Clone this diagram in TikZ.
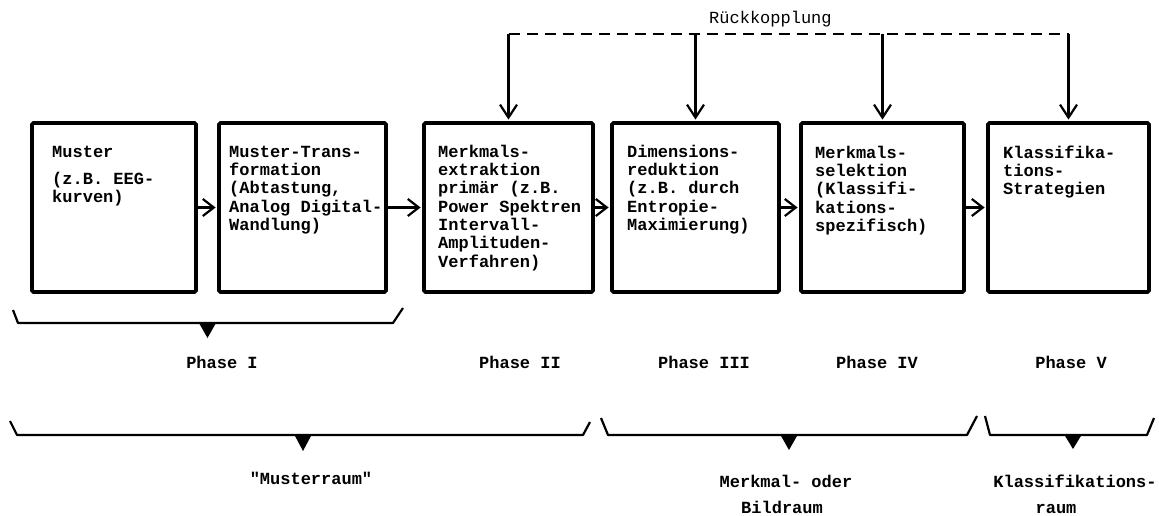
\documentclass[tikz,border=0pt]{standalone}
\usepackage{fontspec}
\setmonofont{Liberation Mono}
\usetikzlibrary{arrows.meta}
\begin{document}
\begin{tikzpicture}[x=1pt, y=-1pt,
  stage/.style={draw, line width=3.8pt, rounded corners=1.5pt, inner sep=0pt,
                minimum height=169pt},
  stagetext/.style={anchor=north west, inner sep=0pt, align=left,
                    font=\fontsize{17}{18.3}\selectfont\ttfamily\bfseries},
  phasetext/.style={anchor=base, inner sep=0pt,
                    font=\fontsize{17}{18.3}\selectfont\ttfamily\bfseries},
  flow/.style={line width=2.2pt, shorten >=1.5pt,
               -{Straight Barb[length=11pt,width=17pt,line width=2.2pt]}},
  drop/.style={line width=2.2pt, shorten >=1.5pt,
               -{Straight Barb[length=13pt,width=17pt,line width=2.2pt]}},
  feedline/.style={line width=2.4pt, dash pattern=on 11pt off 7pt},
  brace/.style={line width=2.2pt, line join=round},
  tip/.style={fill=black}
]
\useasboundingbox (0,0) rectangle (1159,515);

% processing stages
\node[stage, minimum width=164pt] (b1) at (114,207.5) {};
\node[stage, minimum width=167pt] (b2) at (302.5,207.5) {};
\node[stage, minimum width=169pt] (b3) at (508.5,207.5) {};
\node[stage, minimum width=167pt] (b4) at (695.5,207.5) {};
\node[stage, minimum width=163pt] (b5) at (882.5,207.5) {};
\node[stage, minimum width=161pt] (b6) at (1068.5,207.5) {};

% stage descriptions
\node[stagetext] (t1) at (52,144.2) {\strut Muster\\[8.7pt](z.B. EEG-\\kurven)};
\node[stagetext] (t2) at (229,144.2) {\strut Muster-Trans-\\formation\\(Abtastung,\\Analog Digital-\\Wandlung)};
\node[stagetext] (t3) at (438,144.2) {\strut Merkmals-\\extraktion\\primär (z.B.\\Power Spektren\\Intervall-\\Amplituden-\\Verfahren)};
\node[stagetext] (t4) at (627,144.2) {\strut Dimensions-\\reduktion\\(z.B. durch\\Entropie-\\Maximierung)};
\node[stagetext] (t5) at (815,145.2) {\strut Merkmals-\\selektion\\(Klassifi-\\kations-\\spezifisch)};
\node[stagetext] (t6) at (1003,145.2) {\strut Klassifika-\\tions-\\Strategien};

% forward flow
\draw[flow] (b1.east) -- (b2.west);
\draw[flow] (b2.east) -- (b3.west);
\draw[flow] (b3.east) -- (b4.west);
\draw[flow] (b4.east) -- (b5.west);
\draw[flow] (b5.east) -- (b6.west);

% feedback loop
\coordinate (f3) at ([yshift=87pt]b3.north);
\coordinate (f4) at ([yshift=87pt]b4.north);
\coordinate (f5) at ([yshift=87pt]b5.north);
\coordinate (f6) at ([yshift=87pt]b6.north);
\draw[feedline] (f3) -- (f6);
\draw[drop] (f3) -- (b3.north);
\draw[drop] (f4) -- (b4.north);
\draw[drop] (f5) -- (b5.north);
\draw[drop] (f6) -- (b6.north);
\node[anchor=base west, inner sep=0pt, font=\fontsize{17}{18.3}\selectfont\ttfamily] (rk) at (709,23) {Rückkopplung};

% phase brace
\draw[brace] (13,310) -- (18,323) -- (393,323) -- (403,308);
\fill[tip] (199,323) -- (216,323) -- (207.5,338) -- cycle;

% phase labels
\node[phasetext] (p1) at (222,368) {Phase I};
\node[phasetext] (p2) at (520,368) {Phase II};
\node[phasetext] (p3) at (704,368) {Phase III};
\node[phasetext] (p4) at (877,368) {Phase IV};
\node[phasetext] (p5) at (1071,368) {Phase V};

% space braces
\draw[brace] (10,421) -- (17,435) -- (583,435) -- (590,422);
\fill[tip] (294.5,435) -- (311.5,435) -- (303,451) -- cycle;
\draw[brace] (601,418) -- (608,435) -- (967,435) -- (977,416);
\fill[tip] (780.5,435) -- (797.5,435) -- (789,450) -- cycle;
\draw[brace] (985,416) -- (990,435) -- (1147,435) -- (1154,418);
\fill[tip] (1064.5,435) -- (1081.5,435) -- (1073,449) -- cycle;

% space labels
\node[phasetext] (s1) at (311,484) {"Musterraum"};
\node[phasetext] (s2a) at (786,487) {Merkmal- oder};
\node[phasetext] (s2b) at (782,513) {Bildraum};
\node[phasetext] (s3a) at (1075,487) {Klassifikations-};
\node[phasetext] (s3b) at (1056,513) {raum};
\end{tikzpicture}
\end{document}
